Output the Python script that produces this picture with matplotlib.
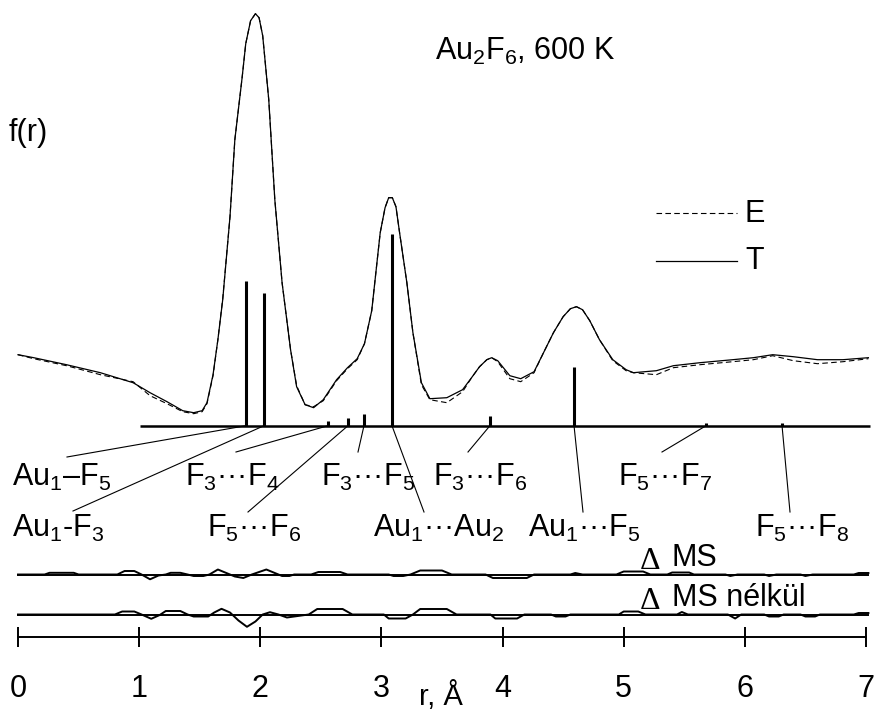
import matplotlib
matplotlib.use("Agg")
import matplotlib.pyplot as plt

plt.rcParams['font.family'] = ['Liberation Sans', 'DejaVu Sans']
plt.rcParams['mathtext.fontset'] = 'custom'
plt.rcParams['mathtext.rm'] = 'Liberation Sans'
plt.rcParams['mathtext.it'] = 'Liberation Sans'
plt.rcParams['mathtext.default'] = 'regular'

# ---------------- data ----------------
r_curve = [0.00, 0.13, 0.40, 0.68, 0.95, 1.09, 1.23, 1.36, 1.45, 1.52, 1.56, 1.61, 1.65, 1.69,
           1.75, 1.79, 1.85, 1.88, 1.92, 1.96, 1.99, 2.02, 2.07, 2.12, 2.18, 2.25, 2.30, 2.37,
           2.44, 2.52, 2.63, 2.72, 2.80, 2.86, 2.92, 2.99, 3.03, 3.06, 3.09, 3.12, 3.15, 3.21,
           3.26, 3.33, 3.40, 3.54, 3.67, 3.75, 3.81, 3.87, 3.91, 3.96, 4.06, 4.15, 4.26, 4.33,
           4.42, 4.50, 4.56, 4.61, 4.66, 4.72, 4.80, 4.91, 5.02, 5.08, 5.27, 5.41, 5.63, 5.90,
           6.07, 6.23, 6.40, 6.60, 6.81, 7.02]
f_theory = [0.71, 0.68, 0.61, 0.53, 0.43, 0.33, 0.24, 0.15, 0.13, 0.15, 0.23, 0.51, 0.86, 1.26,
            2.09, 2.86, 3.48, 3.82, 4.05, 4.12, 4.08, 3.90, 3.26, 2.26, 1.43, 0.76, 0.39, 0.21,
            0.18, 0.26, 0.46, 0.58, 0.67, 0.82, 1.15, 1.93, 2.18, 2.28, 2.28, 2.19, 1.93, 1.43,
            0.93, 0.43, 0.27, 0.28, 0.36, 0.49, 0.59, 0.66, 0.68, 0.65, 0.50, 0.47, 0.54, 0.71,
            0.93, 1.09, 1.17, 1.19, 1.16, 1.05, 0.86, 0.66, 0.56, 0.53, 0.55, 0.60, 0.63, 0.66,
            0.68, 0.71, 0.69, 0.66, 0.66, 0.68]
f_exp = [0.71, 0.67, 0.60, 0.51, 0.44, 0.30, 0.22, 0.14, 0.12, 0.14, 0.22, 0.50, 0.86, 1.27,
         2.09, 2.86, 3.48, 3.82, 4.05, 4.12, 4.08, 3.90, 3.26, 2.26, 1.43, 0.76, 0.40, 0.21,
         0.19, 0.25, 0.45, 0.57, 0.66, 0.82, 1.15, 1.93, 2.18, 2.28, 2.28, 2.19, 1.93, 1.43,
         0.93, 0.41, 0.26, 0.23, 0.34, 0.49, 0.59, 0.66, 0.68, 0.64, 0.47, 0.44, 0.53, 0.71,
         0.93, 1.09, 1.17, 1.19, 1.16, 1.05, 0.86, 0.65, 0.55, 0.53, 0.51, 0.58, 0.61, 0.64,
         0.66, 0.70, 0.65, 0.62, 0.64, 0.67]

stick_r = [1.882, 2.031, 2.559, 2.724, 2.856, 3.087, 3.896, 4.590, 5.680, 6.307]
stick_h = [1.45, 1.33, 0.05, 0.08, 0.12, 1.92, 0.10, 0.59, 0.03, 0.03]
stick_labels = ['Au$_1$–F$_5$', 'Au$_1$-F$_3$', 'F$_3$···F$_4$', 'F$_5$···F$_6$',
                'F$_3$···F$_5$', 'Au$_1$···Au$_2$', 'F$_3$···F$_6$', 'Au$_1$···F$_5$',
                'F$_5$···F$_7$', 'F$_5$···F$_8$']

dms_r = [0.00, 0.22, 0.26, 0.46, 0.50, 0.82, 0.88, 0.96, 1.02, 1.09, 1.16, 1.22, 1.26, 1.34,
         1.40, 1.45, 1.53, 1.58, 1.65, 1.73, 1.79, 1.86, 1.93, 2.05, 2.13, 2.18, 2.24, 2.28,
         2.42, 2.48, 2.66, 2.72, 3.06, 3.10, 3.18, 3.24, 3.32, 3.50, 3.58, 3.86, 3.92, 4.20,
         4.26, 4.56, 4.60, 4.66, 4.94, 5.00, 5.16, 5.22, 5.36, 5.40, 5.54, 5.58, 5.84, 5.88,
         5.94, 6.16, 6.20, 6.26, 6.46, 6.50, 6.56, 6.90, 6.94, 7.02]
dms_v = [0.0, 0.0, 0.017, 0.017, 0.0, 0.0, 0.035, 0.035, 0.0, -0.048, -0.01, 0.0, 0.017, 0.017,
         0.0, -0.015, -0.015, 0.0, 0.05, 0.01, -0.02, -0.035, 0.0, 0.05, 0.01, -0.015, -0.015, 0.0,
         0.0, 0.025, 0.025, 0.0, 0.0, -0.015, -0.015, 0.0, 0.04, 0.04, 0.0, 0.0, -0.035, -0.035,
         0.0, 0.0, 0.015, 0.0, 0.0, 0.03, 0.03, 0.0, 0.0, 0.02, 0.02, 0.0, 0.0, -0.015,
         0.0, 0.0, -0.015, 0.0, 0.0, -0.015, 0.0, 0.0, 0.015, 0.015]

dnoms_r = [0.00, 0.80, 0.86, 0.96, 1.02, 1.10, 1.17, 1.22, 1.34, 1.40, 1.45, 1.57, 1.62, 1.68,
           1.75, 1.82, 1.89, 1.96, 2.02, 2.08, 2.15, 2.22, 2.28, 2.40, 2.47, 2.68, 2.76, 3.02,
           3.06, 3.20, 3.26, 3.32, 3.54, 3.62, 3.90, 3.94, 4.12, 4.18, 4.40, 4.44, 4.52, 4.56,
           4.96, 5.00, 5.12, 5.18, 5.44, 5.48, 5.53, 5.86, 5.92, 5.97, 6.16, 6.20, 6.28, 6.32,
           6.46, 6.50, 6.58, 6.62, 6.90, 6.94, 7.02]
dnoms_v = [0.0, 0.0, 0.03, 0.03, 0.0, -0.043, -0.005, 0.035, 0.035, 0.0, -0.02, -0.02, 0.02, 0.057,
           0.02, -0.06, -0.123, -0.07, 0.0, 0.023, 0.0, -0.03, -0.02, 0.0, 0.055, 0.055, 0.0, 0.0,
           -0.04, -0.04, 0.0, 0.055, 0.055, 0.0, 0.0, -0.04, -0.04, 0.0, 0.0, -0.02, -0.02, 0.0,
           0.0, 0.03, 0.03, 0.0, 0.0, 0.025, 0.0, 0.0, -0.04, 0.0, 0.0, -0.02, -0.02, 0.0,
           0.0, -0.02, -0.02, 0.0, 0.0, 0.015, 0.015]

x_ticks = [0, 1, 2, 3, 4, 5, 6, 7]
x_ticklabels = ['0', '1', '2', '3', '4', '5', '6', '7']

# ---------------- layout helpers (pixel -> data) ----------------
W, H = 879, 713
X0, PXA = 18.0, 121.14   # pixel of r=0, pixels per Angstrom
Y0, PXU = 425.7, 100.0   # pixel of f=0 baseline, pixels per unit


def X(px):
    return (px - X0) / PXA


def Y(py):
    return (Y0 - py) / PXU


fig = plt.figure(figsize=(W / 100, H / 100), dpi=100)
ax = fig.add_axes([0, 0, 1, 1])
ax.set_xlim(X(0), X(W))
ax.set_ylim(Y(H), Y(0))
ax.axis('off')

FS = 22

# curves
ax.plot(r_curve, f_exp, color='black', lw=0.8, ls=(0, (5, 3)))
ax.plot(r_curve, f_theory, color='black', lw=0.9)

# stick baseline and sticks
ax.plot([X(140), X(870)], [0, 0], color='black', lw=1.8, solid_capstyle='butt')
ax.vlines(stick_r, 0, stick_h, color='black', lw=2.2)

# labels with leader lines
label_pos = [(12, 486), (12, 537), (185, 486), (207, 537), (321, 486),
             (373, 537), (433, 486), (528, 537), (618, 486), (755, 537)]
leader_end = [(67, 457), (73, 511), (236, 452), (248, 512), (358, 452),
              (424, 512), (468, 452), (583, 512), (662, 452), (790, 512)]
for r, lab, (lx, ly), (ex, ey) in zip(stick_r, stick_labels, label_pos, leader_end):
    ax.plot([r, X(ex)], [0, Y(ey)], color='black', lw=0.8)
    ax.text(X(lx), Y(ly), lab, fontsize=FS, ha='left', va='baseline')

# title, y label
ax.text(X(435), Y(60), 'Au$_2$F$_6$, 600 K', fontsize=FS, ha='left', va='baseline')
ax.text(X(9), Y(141), 'f(r)', fontsize=FS, ha='left', va='baseline')

# legend
ax.plot([X(656), X(737)], [Y(213), Y(213)], color='black', lw=0.8, ls=(0, (5, 3)))
ax.plot([X(656), X(737)], [Y(261), Y(261)], color='black', lw=0.9)
ax.text(X(745), Y(222), 'E', fontsize=FS, ha='left', va='baseline')
ax.text(X(745), Y(269), 'T', fontsize=FS, ha='left', va='baseline')

# difference curves
base_ms = Y(574.5)
base_noms = Y(614.5)
ax.plot([0, 7.02], [base_ms, base_ms], color='black', lw=1.4)
ax.plot(dms_r, [base_ms + v for v in dms_v], color='black', lw=1.4)
ax.plot([0, 7.02], [base_noms, base_noms], color='black', lw=1.4)
ax.plot(dnoms_r, [base_noms + v for v in dnoms_v], color='black', lw=1.4)
ax.text(X(640), Y(569), 'Δ', fontsize=23, family='Liberation Serif', ha='left', va='baseline')
ax.text(X(672), Y(566), 'MS', fontsize=FS, ha='left', va='baseline')
ax.text(X(640), Y(609), 'Δ', fontsize=23, family='Liberation Serif', ha='left', va='baseline')
ax.text(X(672), Y(606), 'MS nélkül', fontsize=FS, ha='left', va='baseline')

# x axis
yax = Y(637)
ax.plot([x_ticks[0], x_ticks[-1]], [yax, yax], color='black', lw=1.4)
ax.vlines(x_ticks, Y(647), Y(627), color='black', lw=1.4)
for t, lab in zip(x_ticks, x_ticklabels):
    ax.text(t, Y(697), lab, fontsize=FS, ha='center', va='baseline')
ax.text(X(441), Y(705), 'r, Å', fontsize=21, ha='center', va='baseline')

fig.savefig('out.png', dpi=100)
